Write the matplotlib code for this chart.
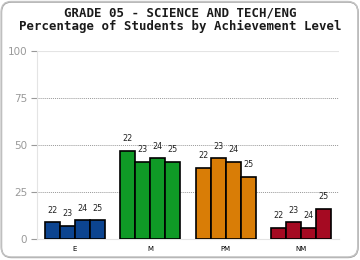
import numpy as np
import matplotlib.pyplot as plt
from matplotlib.patches import FancyBboxPatch

levels = ['E', 'M', 'PM', 'NM']
years = ['22', '23', '24', '25']
values = {
    'E': [9, 7, 10, 10],
    'M': [47, 41, 43, 41],
    'PM': [38, 43, 41, 33],
    'NM': [6, 9, 6, 16],
}
colors = ['#0c4490', '#0f9a26', '#d97d06', '#a50a22']

fig = plt.figure(figsize=(3.6, 2.6), dpi=100)
ax = fig.add_axes([0.1028, 0.0808, 0.839, 0.723])

# rounded border (in inches so the corners stay round)
border = FancyBboxPatch((0.012, 0.03), 3.565, 2.555, boxstyle='round,pad=0,rounding_size=0.1',
                        transform=fig.dpi_scale_trans, facecolor='none',
                        edgecolor='#c4c4c4', linewidth=1.0, clip_on=False)
fig.patches.append(border)
shadow = FancyBboxPatch((0.015, 0.025), 3.565, 2.555, boxstyle='round,pad=0,rounding_size=0.1',
                        transform=fig.dpi_scale_trans, facecolor='none',
                        edgecolor='#9a9a9a', linewidth=1.0, clip_on=False, zorder=-1)
fig.patches.append(shadow)

width = 0.2
x = np.arange(len(levels))
for i, lvl in enumerate(levels):
    for j, yr in enumerate(years):
        xpos = x[i] + (j - 1.5) * width
        v = values[lvl][j]
        ax.bar(xpos, v, width=width, color=colors[i], edgecolor='black', linewidth=1.2, zorder=3)
        ax.text(xpos, v + 4, yr, ha='center', va='bottom', fontsize=5.8,
                color='#222222', zorder=4)

ax.set_xlim(-0.5, 3.5)
ax.set_ylim(0, 100)
ax.set_yticks([0, 25, 50, 75, 100])
ax.set_xticks(x)
ax.set_xticklabels(levels, fontsize=5)
ax.tick_params(axis='x', length=0, pad=5)
ax.tick_params(axis='y', length=4, color='#999999', labelcolor='#999999', labelsize=7.5, pad=3)

for yv in [25, 50, 75]:
    ax.axhline(yv, color='#999999', linestyle=(0, (1, 1)), linewidth=0.7, zorder=1)
ax.axhline(100, color='#e4e4e4', linewidth=0.8, zorder=1)

for s in ['top', 'right']:
    ax.spines[s].set_visible(False)
ax.spines['left'].set_color('#e4e4e4')
ax.spines['bottom'].set_color('#e4e4e4')

fig.text(0.5, 0.95, 'GRADE 05 - SCIENCE AND TECH/ENG', ha='center', va='center',
         fontsize=8.9, fontweight='bold', family='DejaVu Sans Mono', color='#1a1a1a')
fig.text(0.5, 0.899, 'Percentage of Students by Achievement Level', ha='center', va='center',
         fontsize=8.9, fontweight='bold', family='DejaVu Sans Mono', color='#1a1a1a')

plt.savefig('out.png', dpi=100)
